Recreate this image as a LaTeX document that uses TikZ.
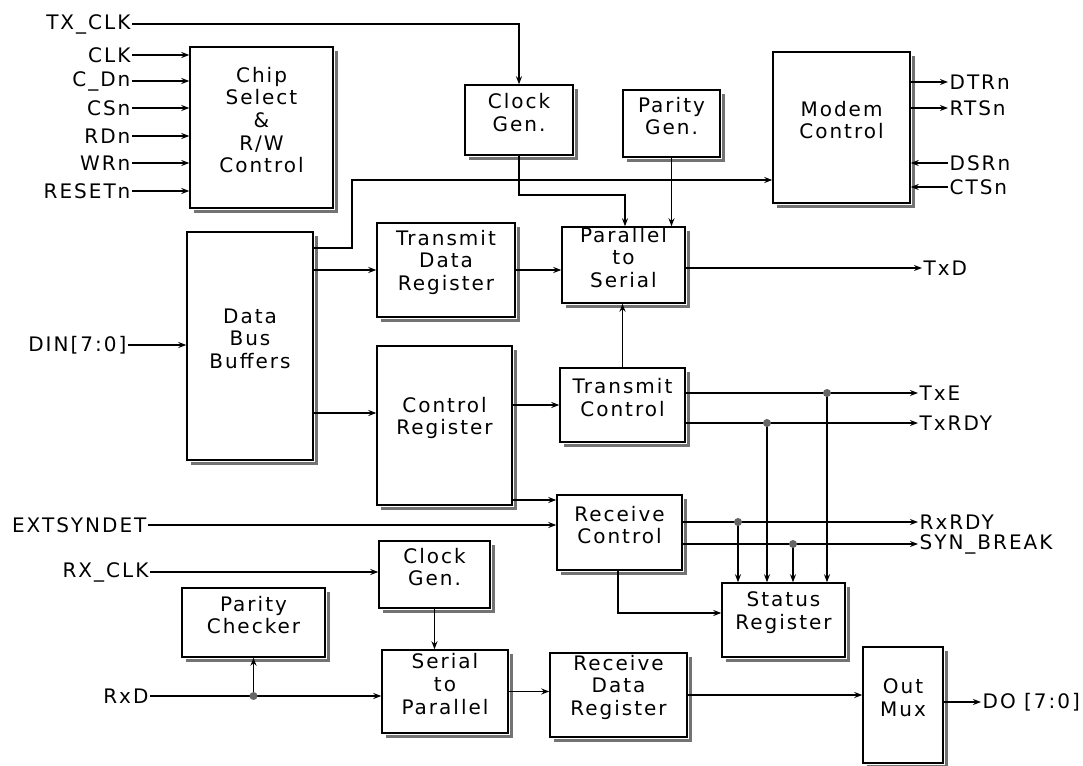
\documentclass[tikz,border=0pt]{standalone}
\usepackage{fontspec}
\setmainfont[LetterSpace=10]{DejaVu Sans}
\usetikzlibrary{arrows.meta,fit}
\begin{document}
\begin{tikzpicture}[x=0.75pt,y=-0.75pt,
  font=\fontsize{15}{17}\selectfont,
  blk/.style={draw, line width=1.1pt, fill=white, inner sep=0pt, align=center},
  shad/.style={draw=black!55, line width=2.2pt},
  arr/.style={line width=1pt, -{Stealth[length=6pt,width=4.5pt]}},
  lbl/.style={inner sep=1pt},
  dotm/.style={fill=black!60}
]
\useasboundingbox (0,0) rectangle (1083,766);

% ---------- blocks ----------
\node[blk, fit={(190,47)(333,208)}] (cs) {Chip\\Select\\\&\\R/W\\Control};
\node[blk, fit={(465,85)(573,155)}] (cg1) {Clock\\Gen.};
\node[blk, fit={(623,90)(720,157)}] (pg) {Parity\\Gen.};
\node[blk, fit={(773,52)(910,203)}] (mc) {Modem\\Control};
\node[blk, fit={(187,232)(313,460)}] (dbb) {Data\\Bus\\Buffers};
\node[blk, fit={(377,223)(515,317)}] (tdr) {Transmit\\Data\\Register};
\node[blk, fit={(562,227)(685,303)}] (p2s) {Parallel\\to\\Serial};
\node[blk, fit={(377,346)(512,505)}] (cr) {Control\\Register};
\node[blk, fit={(560,368)(685,442)}] (tc) {Transmit\\Control};
\node[blk, fit={(557,495)(682,570)}] (rc) {Receive\\Control};
\node[blk, fit={(379,541)(490,608)}] (cg2) {Clock\\Gen.};
\node[blk, fit={(182,588)(325,657)}] (pc) {Parity\\Checker};
\node[blk, fit={(382,650)(508,733)}] (s2p) {Serial\\to\\Parallel};
\node[blk, fit={(550,653)(687,737)}] (rdr) {Receive\\Data\\Register};
\node[blk, fit={(722,583)(845,657)}] (sr) {Status\\Register};
\node[blk, fit={(863,647)(943,763)}] (om) {Out\\Mux};

% shadow edges (right and bottom)
\foreach \n in {cs,cg1,pg,mc,dbb,tdr,p2s,cr,tc,rc,cg2,pc,s2p,rdr,sr,om}
  \draw[shad] ([shift={(3,5)}]\n.north east) -- ([shift={(3,3)}]\n.south east)
              -- ([shift={(5,3)}]\n.south west);

% ---------- left labels ----------
\node[lbl, anchor=east] (ltx)  at (132,24)  {TX\_CLK};
\node[lbl, anchor=east] (lclk) at (132,55)  {CLK};
\node[lbl, anchor=east] (lcd)  at (132,81)  {C\_Dn};
\node[lbl, anchor=east] (lcs)  at (132,108) {CSn};
\node[lbl, anchor=east] (lrd)  at (132,136) {RDn};
\node[lbl, anchor=east] (lwr)  at (132,163) {WRn};
\node[lbl, anchor=east] (lrst) at (132,191) {RESETn};
\node[lbl, anchor=east] (ldin) at (128,345) {DIN[7:0]};
\node[lbl, anchor=east] (lext) at (148,525) {EXTSYNDET};
\node[lbl, anchor=east] (lrxc) at (150,572) {RX\_CLK};
\node[lbl, anchor=east] (lrxd) at (150,696) {RxD};

% ---------- right labels ----------
\node[lbl, anchor=west] (ldtr) at (948,82)  {DTRn};
\node[lbl, anchor=west] (lrts) at (948,108) {RTSn};
\node[lbl, anchor=west] (ldsr) at (948,163) {DSRn};
\node[lbl, anchor=west] (lcts) at (948,187) {CTSn};
\node[lbl, anchor=west] (ltxd) at (922,268) {TxD};
\node[lbl, anchor=west] (ltxe) at (918,393) {TxE};
\node[lbl, anchor=west] (ltxr) at (918,423) {TxRDY};
\node[lbl, anchor=west] (lrxr) at (918,522) {RxRDY};
\node[lbl, anchor=west] (lsyn) at (918,544) {SYN\_BREAK};
\node[lbl, anchor=west] (ldo)  at (981,702) {DO [7:0]};

% ---------- helper coordinates ----------
\coordinate (b1) at (352,248);
\coordinate (b2) at (352,180);
\coordinate (b3) at (0,413);
\coordinate (b4) at (0,500);
\coordinate (b5) at (618,613);
\coordinate (b6) at (625,195);
\coordinate (j1) at (827,393);
\coordinate (j2) at (767,423);
\coordinate (j3) at (738,522);
\coordinate (j4) at (793,544);
\coordinate (j5) at (253.5,696);

% ---------- inputs on the left ----------
\draw[arr] (ltx.east) -| (cg1.north);
\foreach \s in {lclk,lcd,lcs,lrd,lwr,lrst}
  \draw[arr] (\s.east) -- (\s.east -| cs.west);
\draw[arr] (ldin.east) -- (ldin.east -| dbb.west);
\draw[arr] (lext.east) -- (lext.east -| rc.west);
\draw[arr] (lrxc.east) -- (lrxc.east -| cg2.west);
\draw[arr] (lrxd.east) -- (lrxd.east -| s2p.west);

% ---------- internal connections ----------
\draw[arr] (dbb.east |- b1) -- (b1) -- (b2) -- (b2 -| mc.west);
\draw[arr] (dbb.east |- tdr.west) -- (tdr.west);
\draw[arr] (dbb.east |- b3) -- (cr.west |- b3);
\draw[arr] (tdr.east) -- (tdr.east -| p2s.west);
\draw[arr] (cg1.south) -- (cg1.south |- b6) -- (b6) -- (b6 |- p2s.north);
\draw[arr] (pg.south) -- (pg.south |- p2s.north);
\draw[arr] (tc.north) -- (tc.north |- p2s.south);
\draw[arr] (cr.east |- tc.west) -- (tc.west);
\draw[arr] (cr.east |- b4) -- (rc.west |- b4);
\draw[arr] (rc.south -| b5) -- (b5) -- (b5 -| sr.west);
\draw[arr] (cg2.south) -- (cg2.south |- s2p.north);
\draw[arr] (j5) -- (pc.south);
\draw[arr] (s2p.east) -- (s2p.east -| rdr.west);
\draw[arr] (rdr.east) -- (rdr.east -| om.west);

% ---------- outputs ----------
\draw[arr] (p2s.east |- ltxd) -- (ltxd.west);
\draw[arr] (tc.east |- ltxe) -- (ltxe.west);
\draw[arr] (tc.east |- ltxr) -- (ltxr.west);
\draw[arr] (rc.east |- lrxr) -- (lrxr.west);
\draw[arr] (rc.east |- lsyn) -- (lsyn.west);
\draw[arr] (om.east |- ldo) -- (ldo.west);
\draw[arr] (j1) -- (j1 |- sr.north);
\draw[arr] (j2) -- (j2 |- sr.north);
\draw[arr] (j3) -- (j3 |- sr.north);
\draw[arr] (j4) -- (j4 |- sr.north);

% ---------- modem control ----------
\draw[arr] (mc.east |- ldtr) -- (ldtr.west);
\draw[arr] (mc.east |- lrts) -- (lrts.west);
\draw[arr] (ldsr.west) -- (ldsr.west -| mc.east);
\draw[arr] (lcts.west) -- (lcts.west -| mc.east);

% ---------- junction dots ----------
\foreach \j in {j1,j2,j3,j4,j5}
  \fill[dotm] (\j) circle (4);
\end{tikzpicture}
\end{document}
